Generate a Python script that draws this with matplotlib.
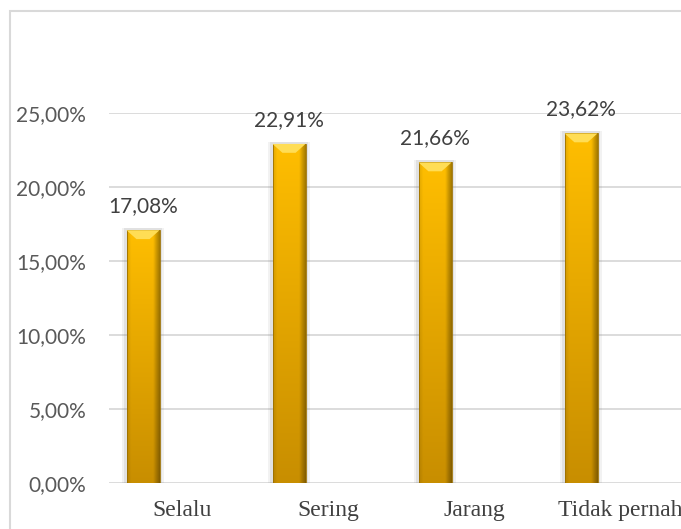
import numpy as np
import matplotlib.pyplot as plt
from matplotlib.patches import Rectangle, Polygon
from matplotlib.ticker import FuncFormatter

categories = ['Selalu', 'Sering', 'Jarang', 'Tidak pernah']
values = [17.08, 22.91, 21.66, 23.62]
yticks = [0, 5, 10, 15, 20, 25]


def pct(v, pos=None):
    return f'{v:.2f}%'.replace('.', ',')


fig = plt.figure(figsize=(6.81, 5.29), dpi=100)

# outer chart border (cut off at right and bottom)
fig.patches.append(Rectangle((10 / 681, -0.1), 1.2, 1 - 11 / 529 + 0.1,
                             transform=fig.transFigure, fill=False,
                             edgecolor='#D9D9D9', linewidth=1.5))

# plot area runs past the right edge of the picture
ax = fig.add_axes([109 / 681, 46 / 529, 584 / 681, 370 / 529])
for s in ax.spines.values():
    s.set_visible(False)
ax.set_yticks(yticks)
ax.yaxis.set_major_formatter(FuncFormatter(pct))
ax.grid(axis='y', color='#D9D9D9', linewidth=1.3)
ax.set_axisbelow(True)
ax.tick_params(axis='y', length=0, pad=16.5, labelsize=15, labelcolor='#595959')
for lab in ax.get_yticklabels():
    lab.set_family('Lato')
ax.set_xticks(range(len(categories)))
ax.set_xticklabels(categories, family='Liberation Serif', fontsize=17, color='#404040')
ax.tick_params(axis='x', length=0, pad=12)

# gold gradient texture: vertical fade plus darker right edge
ny, nx = 200, 40
yy = np.linspace(0, 1, ny)[:, None]  # 0 top, 1 bottom
xx = np.linspace(0, 1, nx)[None, :]
top = np.array([255, 190, 0]) / 255
bot = np.array([200, 142, 0]) / 255
base = top[None, None, :] * (1 - yy[..., None]) + bot[None, None, :] * yy[..., None]
shade = np.ones((1, nx))
shade = shade - 0.10 * np.clip((0.12 - xx) / 0.12, 0, 1) - 0.35 * np.clip((xx - 0.8) / 0.2, 0, 1)
img = np.clip(base * shade[..., None], 0, 1)

width = 0.226
offset = -0.267
bevel = 0.6
for i, v in enumerate(values):
    x0 = i + offset - width / 2
    x1 = x0 + width
    # soft shadow
    for k, a in [(0.03, 0.10), (0.018, 0.14)]:
        ax.add_patch(Rectangle((x0 - k, 0), width + 2 * k, v + 0.15, facecolor='#808080',
                               edgecolor='none', alpha=a, zorder=1.5))
    im = ax.imshow(img, extent=[x0, x1, 0, v], aspect='auto', zorder=2,
                   interpolation='bilinear')
    im.set_clip_path(Rectangle((x0, 0), width, v, transform=ax.transData))
    ax.add_patch(Rectangle((x0, 0), width, v, fill=False, edgecolor='#9C7000',
                           linewidth=0.6, zorder=3))
    # top bevel highlight
    dx = width * 0.3
    ax.add_patch(Polygon([(x0, v), (x1, v), (x1 - dx, v - bevel), (x0 + dx, v - bevel)],
                         closed=True, facecolor='#FFDD55', edgecolor='none', zorder=3))
    ax.annotate(pct(v), (i + offset, v), xytext=(0, 13), textcoords='offset points',
                ha='center', va='baseline', fontsize=15, color='#404040', family='Lato')

ax.set_ylim(0, 25)
ax.set_xlim(-0.5, 3.5)
fig.savefig('out.png', dpi=100)
